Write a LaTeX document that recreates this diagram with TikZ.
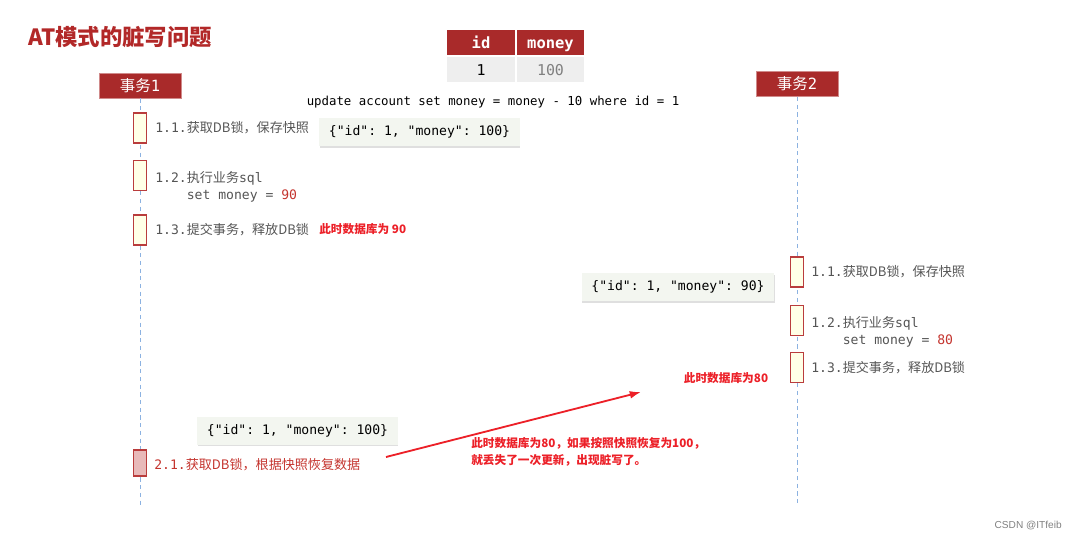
\documentclass[tikz,border=0pt]{standalone}
\usepackage{fontspec}
\setmonofont{DejaVu Sans Mono}
\newfontfamily\cjk{Noto Sans CJK SC}
\newfontfamily\wmfont{Liberation Sans}
\usetikzlibrary{shadows,arrows.meta,positioning}
\definecolor{hdred}{RGB}{169,42,42}
\definecolor{titlered}{RGB}{178,40,40}
\definecolor{actred}{RGB}{185,60,60}
\definecolor{actfill}{RGB}{255,255,230}
\definecolor{rbfill}{RGB}{232,185,185}
\definecolor{notered}{RGB}{236,32,40}
\definecolor{numred}{RGB}{196,52,46}
\definecolor{steptxt}{RGB}{85,85,85}
\definecolor{lifeblue}{RGB}{140,178,225}
\definecolor{jsonfill}{RGB}{243,246,240}
\definecolor{rowgray}{RGB}{238,238,238}
\newcommand{\stepsize}{\fontsize{9.3}{12}\selectfont}
\newcommand{\notesize}{\fontsize{8.3}{12.2}\selectfont}

\begin{document}
\begin{tikzpicture}
	[x=0.025cm,y=-0.025cm,every node/.style={inner sep=0pt},
	txbox/.style={fill=hdred,draw=hdred!55,minimum width=2.05cm,minimum height=0.63cm,
		text=white,font=\cjk\fontsize{11}{12}\selectfont},
	act/.style={draw=actred,fill=actfill,thick,minimum width=0.32cm,minimum height=0.75cm},
	stepnode/.style={anchor=west,text=steptxt,font=\ttfamily\stepsize,align=left},
	json/.style={fill=jsonfill,inner xsep=0.24cm,minimum height=0.7cm,font=\ttfamily\stepsize,
		drop shadow={shadow xshift=0.4pt,shadow yshift=-1.2pt,opacity=0.25}},
	note/.style={text=notered,font=\cjk\bfseries\notesize,align=left},
	cell/.style={draw=white,line width=0.7pt,minimum width=1.72cm,minimum height=0.65cm,
		text height=9pt,text depth=0.2pt}]
	\useasboundingbox (0,0) rectangle (1072,540);
	% title and table
	\node[anchor=west,text=titlered,font=\cjk\bfseries\fontsize{15.9}{18}\selectfont] (title) at (28,37) {AT模式的脏写问题};
	\node[cell,fill=hdred,text=white,font=\ttfamily\bfseries\fontsize{11}{12}\selectfont] (hid) at (481,42.5) {id};
	\node[cell,fill=hdred,text=white,font=\ttfamily\bfseries\fontsize{11}{12}\selectfont] (hmoney) at (550.5,42.5) {money};
	\node[cell,fill=rowgray,font=\ttfamily\fontsize{10.6}{12}\selectfont] (vid) at (481,69) {1};
	\node[cell,fill=rowgray,text=gray,font=\ttfamily\fontsize{10.6}{12}\selectfont] (vmoney) at (550.5,69) {100};
	\node[font=\ttfamily\fontsize{8.8}{12}\selectfont] (sql) at (493,102) {update account set money = money - 10 where id = 1};
	% lifelines
	\node[txbox] (tx1) at (140,85.5) {事务{\ttfamily 1}};
	\node[txbox] (tx2) at (797,84) {事务{\ttfamily 2}};
	\coordinate (end1) at (140,505);
	\coordinate (end2) at (797,503);
	\path
	\foreach \startNode/\endNode in {tx1/end1,tx2/end2}
	{
		(\startNode) edge[draw=lifeblue,dash pattern=on 3pt off 2.5pt] (\endNode)
	};
	% activations
	\foreach \name/\x/\y in {a11/140/128,a12/140/175.5,a13/140/230,b11/797/272,b12/797/320.5,b13/797/367.5}
	\node[act] (\name) at (\x,\y) {};
	\node[act,fill=rbfill,minimum height=0.65cm] (a21) at (140,463) {};
	% transaction 1
	\node[stepnode] (s11) at (155,128) {1.1.{\cjk 获取DB锁，保存快照}};
	\node[stepnode] (s12) at (155,186.5) {1.2.{\cjk 执行业务}sql\\\phantom{1.2.}set money = {\color{numred}90}};
	\node[stepnode] (s13) at (155,230) {1.3.{\cjk 提交事务，释放DB锁}};
	\node[note,anchor=west] (n90) at (319,229) {此时数据库为 90};
	\node[json] (j1) at (419.5,132) {\{"id": 1, "money": 100\}};
	% transaction 2
	\node[stepnode] (t11) at (811,272) {1.1.{\cjk 获取DB锁，保存快照}};
	\node[stepnode] (t12) at (811,332) {1.2.{\cjk 执行业务}sql\\\phantom{1.2.}set money = {\color{numred}80}};
	\node[stepnode] (t13) at (811,368) {1.3.{\cjk 提交事务，释放DB锁}};
	\node[json] (j2) at (678,287) {\{"id": 1, "money": 90\}};
	\node[note] (n80) at (726,378) {此时数据库为80};
	% rollback of transaction 1
	\node[json] (j3) at (297.5,430.5) {\{"id": 1, "money": 100\}};
	\node[stepnode,text=numred] (r21) at (154,465) {2.1.{\cjk 获取DB锁，根据快照恢复数据}};
	\node[note,anchor=west] (lost) at (471,451.5) {此时数据库为80，如果按照快照恢复为100，\\就丢失了一次更新，出现脏写了。};
	\coordinate (arrS) at (386,457);
	\coordinate (arrE) at (641,392);
	\draw[-{Latex[length=8pt,width=5.5pt]},notered,line width=1.3pt] (arrS) -- (arrE);
	\node[anchor=east,text=gray,font=\wmfont\fontsize{7.2}{9}\selectfont] (wm) at (1062,526) {CSDN @ITfeib};
\end{tikzpicture}
\end{document}
